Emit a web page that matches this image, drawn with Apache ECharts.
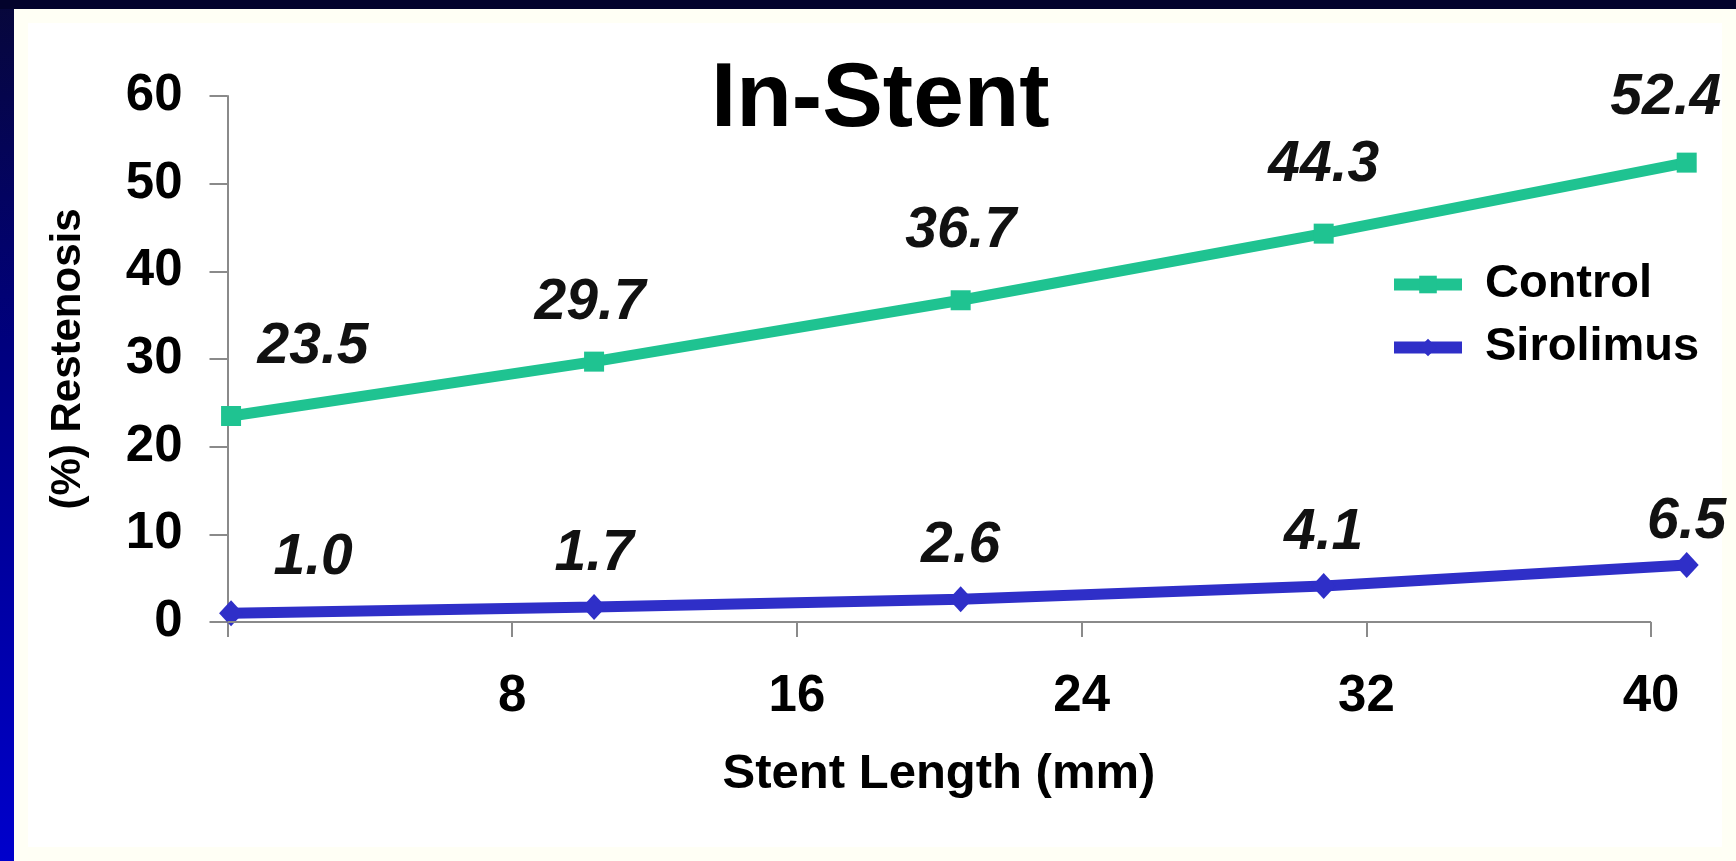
<!DOCTYPE html>
<html><head><meta charset="utf-8">
<script src="https://cdn.jsdelivr.net/npm/echarts@6/dist/echarts.min.js"></script>
<style>
html,body{margin:0;padding:0;width:1736px;height:861px;overflow:hidden;}
body{background:linear-gradient(to bottom,#07073a 0%,#00007e 40%,#0000cc 100%);position:relative;}
#topband{position:absolute;left:0;top:0;width:1736px;height:9px;background:#03032c;}
#panel{position:absolute;left:14px;top:9px;right:0;bottom:0;background:#ffffff;box-shadow:inset 0 0 0 14px #fffff5;}
#chart{position:absolute;left:0;top:0;width:1736px;height:861px;}
</style></head><body>
<div id="topband"></div><div id="panel"></div><div id="chart"></div>
<script>
// ---- data ----
const seriesNames = ['Control', 'Sirolimus'];
const stentLengths = [0.1, 10.3, 20.6, 30.8, 41.0];
const controlValues = [23.5, 29.7, 36.7, 44.3, 52.4];
const sirolimusValues = [1.0, 1.7, 2.6, 4.1, 6.5];
const xTickLabels = [8, 16, 24, 32, 40];
const yTickLabels = [0, 10, 20, 30, 40, 50, 60];
const titleText = 'In-Stent';
const xAxisTitle = 'Stent Length (mm)';
const yAxisTitle = '(%) Restenosis';

const FONT = "'Liberation Sans', Arial, Helvetica, sans-serif";
const AXIS_COLOR = '#8a8a8a';
const colors = ['#1fc391', '#2f2fc8'];
const xAxisEnd = xTickLabels[xTickLabels.length - 1];

// per-point label nudges (layout only)
function labelNudge(seriesIdx, i, n) {
  if (i === 0) return [82, seriesIdx === 0 ? 0 : -2];
  if (seriesIdx === 0 && i === 1) return [-4, 10];
  if (seriesIdx === 0 && i === n - 1) return [-21, 4];
  if (seriesIdx === 1 && i === n - 1) return [0, 10];
  return [0, 0];
}

function buildData(values, seriesIdx) {
  return values.map(function (v, i) {
    return { value: [stentLengths[i], v], label: { offset: labelNudge(seriesIdx, i, values.length) } };
  });
}

const labelStyle = {
  show: true,
  position: 'top',
  fontFamily: FONT,
  fontSize: 57,
  fontWeight: 'bold',
  fontStyle: 'italic',
  color: '#111',
  formatter: function (p) { return p.value[1].toFixed(1); }
};

const chart = echarts.init(document.getElementById('chart'), null, { renderer: 'canvas' });
chart.setOption({
  animation: false,
  backgroundColor: 'transparent',
  textStyle: { fontFamily: FONT },
  title: {
    text: titleText,
    left: 711,
    top: 55,
    padding: 0,
    textStyle: { fontFamily: FONT, fontSize: 91, fontWeight: 'bold', color: '#000' }
  },
  legend: {
    data: seriesNames,
    orient: 'vertical',
    left: 1388,
    top: 261,
    padding: 0,
    itemWidth: 68,
    itemHeight: 22,
    itemGap: 16,
    lineStyle: { width: 12 },
    textStyle: { fontFamily: FONT, fontSize: 47, fontWeight: 'bold', color: '#000', padding: [0, 0, 0, 18] }
  },
  grid: { left: 227.5, right: 31.5, top: 96, bottom: 239, outerBoundsMode: 'none' },
  xAxis: {
    type: 'value',
    min: 0, max: 41.5, interval: 8,
    name: xAxisTitle,
    nameLocation: 'middle',
    nameGap: 128,
    nameTextStyle: { fontFamily: FONT, fontSize: 49, fontWeight: 'bold', color: '#000', padding: [0, 54, 0, 0] },
    axisLine: { show: false },
    axisTick: { show: true, length: 15, customValues: [0].concat(xTickLabels), lineStyle: { color: AXIS_COLOR, width: 2 } },
    axisLabel: {
      margin: 49, fontFamily: FONT, fontSize: 51, fontWeight: 'bold', color: '#000',
      customValues: xTickLabels,
      formatter: function (v) { return xTickLabels.indexOf(v) >= 0 ? String(v) : ''; }
    },
    splitLine: { show: false }
  },
  yAxis: {
    type: 'value',
    min: 0, max: 60, interval: 10,
    name: yAxisTitle,
    nameLocation: 'middle',
    nameGap: 138,
    nameTextStyle: { fontFamily: FONT, fontSize: 42, fontWeight: 'bold', color: '#000' },
    axisLine: { show: true, lineStyle: { color: AXIS_COLOR, width: 2 } },
    axisTick: { show: true, length: 18, lineStyle: { color: AXIS_COLOR, width: 2 } },
    axisLabel: {
      margin: 45, fontFamily: FONT, fontSize: 51, fontWeight: 'bold', color: '#000',
      formatter: function (v) { return yTickLabels.indexOf(v) >= 0 ? String(v) : ''; }
    },
    splitLine: { show: false }
  },
  series: [
    {
      name: seriesNames[0],
      type: 'line',
      clip: false,
      symbol: 'rect',
      symbolSize: 20,
      lineStyle: { color: colors[0], width: 11 },
      itemStyle: { color: colors[0] },
      label: Object.assign({}, labelStyle, { distance: 30 }),
      data: buildData(controlValues, 0),
      markLine: {
        silent: true,
        symbol: 'none',
        label: { show: false },
        lineStyle: { color: AXIS_COLOR, width: 2, type: 'solid' },
        emphasis: { disabled: true },
        data: [[{ coord: [0, 0] }, { coord: [xAxisEnd, 0] }]]
      }
    },
    {
      name: seriesNames[1],
      type: 'line',
      clip: false,
      symbol: 'diamond',
      symbolSize: [24, 26],
      lineStyle: { color: colors[1], width: 11 },
      itemStyle: { color: colors[1] },
      label: Object.assign({}, labelStyle, { distance: 11 }),
      data: buildData(sirolimusValues, 1)
    }
  ]
});
</script>
</body></html>
